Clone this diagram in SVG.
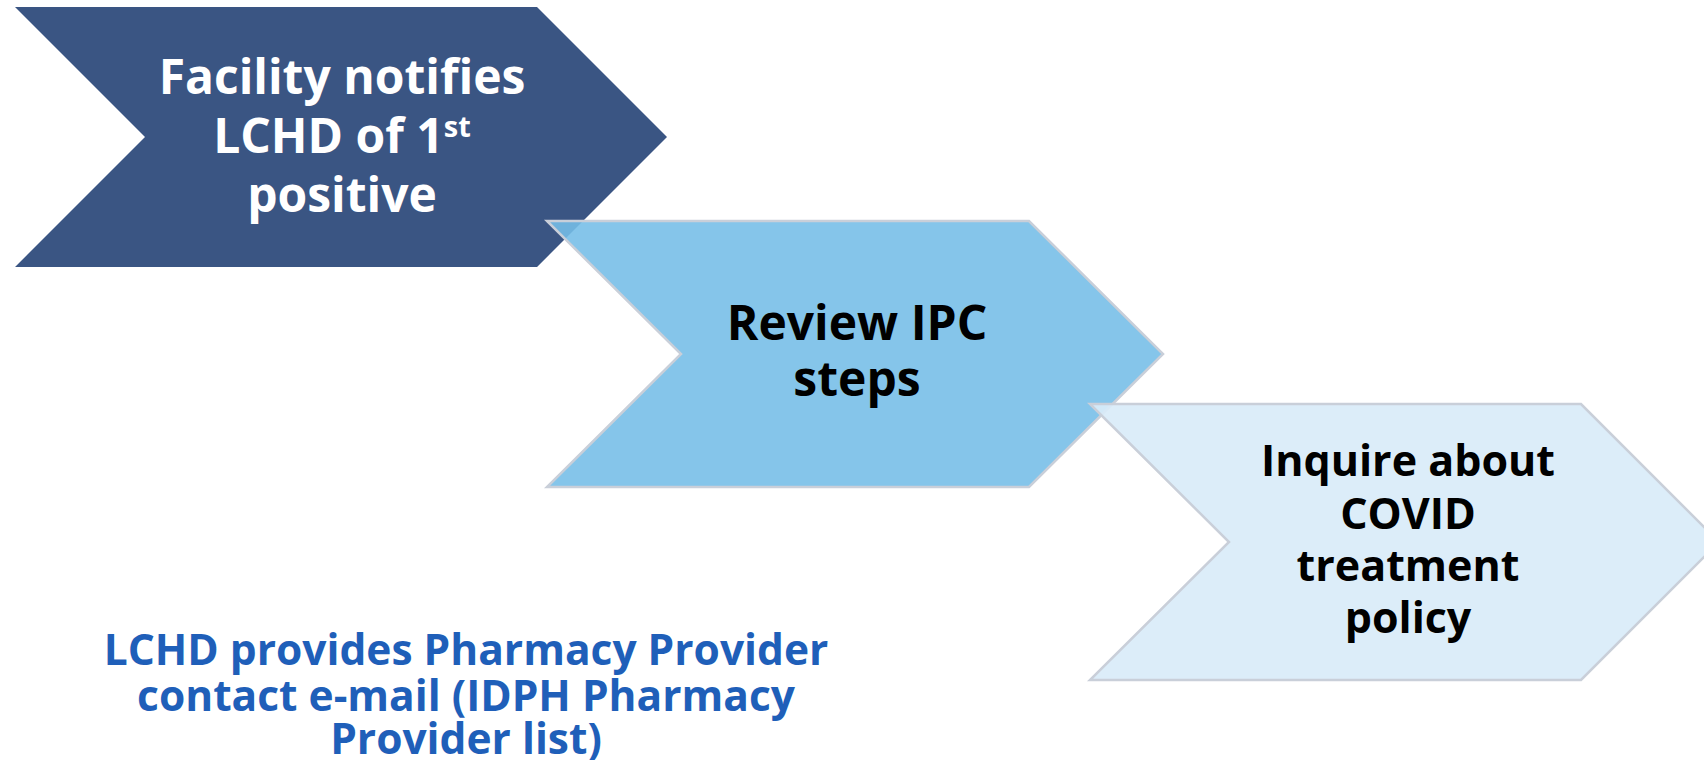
<svg xmlns="http://www.w3.org/2000/svg" width="1704" height="760" viewBox="0 0 1704 760">
<style>
.t{font-family:"Open Sans","Noto Sans","Liberation Sans",sans-serif;font-weight:700;text-anchor:middle}
.big{font-size:48px}
.mid{font-size:43px}
.note{font-size:42.5px;fill:#1f5fb9}
.ch{stroke:#c9cfd9;stroke-width:2.5;stroke-linejoin:miter}
</style>
<rect width="1704" height="760" fill="#ffffff"/>
<g id="connectors"></g>
<g id="step1">
<polygon points="15,7 537,7 667,137 537,267 15,267 145,137" fill="#3a5583"/>
<text class="t big" fill="#ffffff" x="342" y="94">Facility notifies</text>
<text class="t big" fill="#ffffff" x="342" y="153">LCHD of 1<tspan font-size="29" dy="-16">st</tspan></text>
<text class="t big" fill="#ffffff" x="342" y="212">positive</text>
</g>
<g id="step2">
<polygon class="ch" points="547,221 1029,221 1163,354 1029,487 547,487 681,354" fill="#76bee7" fill-opacity="0.89"/>
<text class="t big" fill="#000000" x="857" y="340">Review IPC</text>
<text class="t big" fill="#000000" x="857" y="396">steps</text>
</g>
<g id="step3">
<polygon class="ch" points="1090,404 1581,404 1719,542 1581,680 1090,680 1229,542" fill="#d9ecf8" fill-opacity="0.92"/>
<text class="t mid" fill="#000000" x="1408" y="476">Inquire about</text>
<text class="t mid" fill="#000000" x="1408" y="529">COVID</text>
<text class="t mid" fill="#000000" x="1408" y="581">treatment</text>
<text class="t mid" fill="#000000" x="1408" y="633">policy</text>
</g>
<g id="note">
<text class="t note" x="466" y="665">LCHD provides Pharmacy Provider</text>
<text class="t note" x="466" y="711">contact e-mail (IDPH Pharmacy</text>
<text class="t note" x="466" y="754">Provider list)</text>
</g>
</svg>
